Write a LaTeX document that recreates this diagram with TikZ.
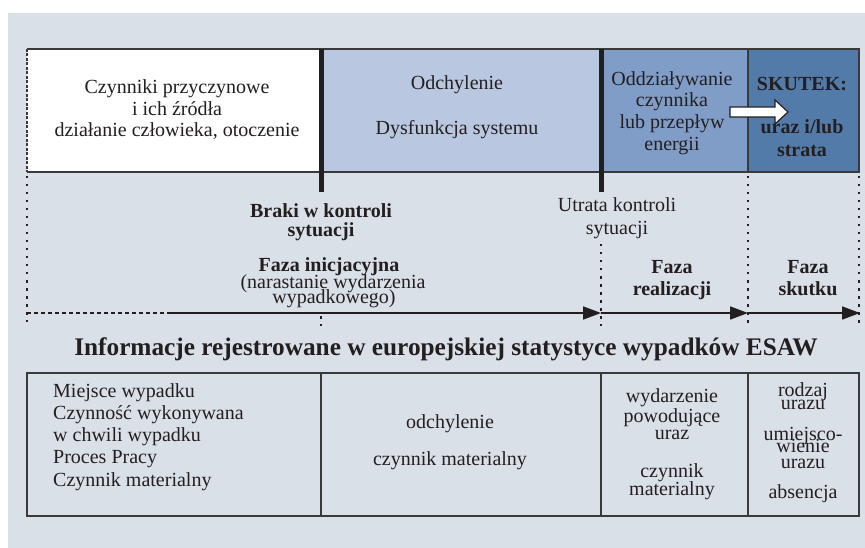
\documentclass[tikz,border=0pt]{standalone}
\usepackage{fontspec}
\setmainfont{Liberation Serif}
\usetikzlibrary{arrows.meta}
\definecolor{bg}{HTML}{DAE0E8}
\definecolor{ctwo}{HTML}{B9C7E0}
\definecolor{cthree}{HTML}{809DC7}
\definecolor{cfour}{HTML}{537BA9}
\definecolor{ink}{HTML}{231F20}
\definecolor{edgec}{HTML}{3A3A3A}
\begin{document}
\begin{tikzpicture}[x=1pt,y=-1pt,
  t/.style={font=\fontsize{20}{22}\selectfont, inner sep=0pt, anchor=base, text=ink},
  tb/.style={t, font=\fontsize{20}{22}\selectfont\bfseries},
  tl/.style={t, anchor=base west},
  ttl/.style={t, font=\fontsize{25.3}{28}\selectfont\bfseries},
  edge/.style={draw=edgec, line width=1.1pt},
  bar/.style={draw=ink, line width=5pt},
  vdot/.style={draw=ink, line width=1.7pt, dash pattern=on 2.5pt off 5.5pt},
  hdot/.style={draw=ink, line width=1.5pt, dash pattern=on 4pt off 3pt},
  phase/.style={draw=ink, line width=1.6pt, -{Triangle[length=18pt,width=13pt]}}]
\useasboundingbox (0,0) rectangle (865,548);
\fill[white] (0,0) rectangle (865,548);
\fill[bg] (8,13) rectangle (865,548);
% top band
\fill[white] (27,49) rectangle (321,172);
\fill[ctwo] (321,49) rectangle (601,172);
\fill[cthree] (601,49) rectangle (748,172);
\fill[cfour] (748,49) rectangle (859,172);
\draw[edge] (27,49) -- (859,49) -- (859,172) -- (27,172);
\draw[edge] (748,49) -- (748,172);
\draw[edge, dash pattern=on 3pt off 1.5pt] (27,49) -- (27,172);
% dotted verticals
\draw[vdot] (27,176) -- (27,322);
\draw[vdot] (748,176) -- (748,326);
\draw[vdot] (859,176) -- (859,326);
\draw[vdot] (601,244) -- (601,326);
\draw[vdot] (321,316) -- (321,326);
% thick bars
\draw[bar] (321,49) -- (321,192);
\draw[bar] (601,49) -- (601,192);
% white arrow
\draw[draw=ink, line width=1.2pt, fill=white] (730,107) -- (775,107) -- (775,100) -- (788,112) -- (775,124) -- (775,117) -- (730,117) -- cycle;
% phase line
\coordinate (h0) at (27,313);
\coordinate (h1) at (171,313);
\coordinate (h2) at (601,313);
\coordinate (h3) at (748,313);
\coordinate (h4) at (860,313);
\draw[hdot] (h0) -- (h1);
\draw[phase] (h1) -- (h2);
\draw[phase] (h2) -- (h3);
\draw[phase] (h3) -- (h4);
% top texts
\node[t] (a1) at (177,94) {Czynniki przyczynowe};
\node[t] (a2) at (177,116) {i ich źródła};
\node[t] (a3) at (177,137) {działanie człowieka, otoczenie};
\node[t] (b1) at (457,90) {Odchylenie};
\node[t] (b2) at (457,135) {Dysfunkcja systemu};
\node[t] (c1) at (672,86) {Oddziaływanie};
\node[t] (c2) at (672,107) {czynnika};
\node[t] (c3) at (672,129) {lub przepływ};
\node[t] (c4) at (672,151) {energii};
\node[tb] (d1) at (802,91) {SKUTEK:};
\node[tb] (d2) at (802,134) {uraz i/lub};
\node[tb] (d3) at (802,157) {strata};
% middle texts
\node[tb] (e1) at (321,218) {Braki w kontroli};
\node[tb] (e2) at (321,237) {sytuacji};
\node[t] (f1) at (617,212) {Utrata kontroli};
\node[t] (f2) at (617,235) {sytuacji};
\node[tb] (g1) at (329,272) {Faza inicjacyjna};
\node[t] (g2) at (333,288) {(narastanie wydarzenia};
\node[t] (g3) at (334,303) {wypadkowego)};
\node[tb] (h1t) at (672,273) {Faza};
\node[tb] (h2t) at (672,295) {realizacji};
\node[tb] (i1) at (808,273) {Faza};
\node[tb] (i2) at (808,295) {skutku};
% title
\node[ttl] (title) at (446,355) {Informacje rejestrowane w europejskiej statystyce wypadków ESAW};
% bottom table
\draw[edge] (27,373) rectangle (859,516);
\draw[edge] (321,373) -- (321,516);
\draw[edge] (601,373) -- (601,516);
\draw[edge] (748,373) -- (748,516);
\node[tl] (j1) at (53,397) {Miejsce wypadku};
\node[tl] (j2) at (53,419) {Czynność wykonywana};
\node[tl] (j3) at (53,441) {w chwili wypadku};
\node[tl] (j4) at (53,463) {Proces Pracy};
\node[tl] (j5) at (53,486) {Czynnik materialny};
\node[t] (k1) at (450,428) {odchylenie};
\node[t] (k2) at (450,465) {czynnik materialny};
\node[t] (l1) at (672,402) {wydarzenie};
\node[t] (l2) at (672,422) {powodujące};
\node[t] (l3) at (672,439) {uraz};
\node[t] (l4) at (672,477) {czynnik};
\node[t] (l5) at (672,495) {materialny};
\node[t] (m1) at (803,396) {rodzaj};
\node[t] (m2) at (803,409) {urazu};
\node[t] (m3) at (803,440) {umiejsco-};
\node[t] (m4) at (803,452) {wienie};
\node[t] (m5) at (803,468) {urazu};
\node[t] (m6) at (803,498) {absencja};
\end{tikzpicture}
\end{document}
